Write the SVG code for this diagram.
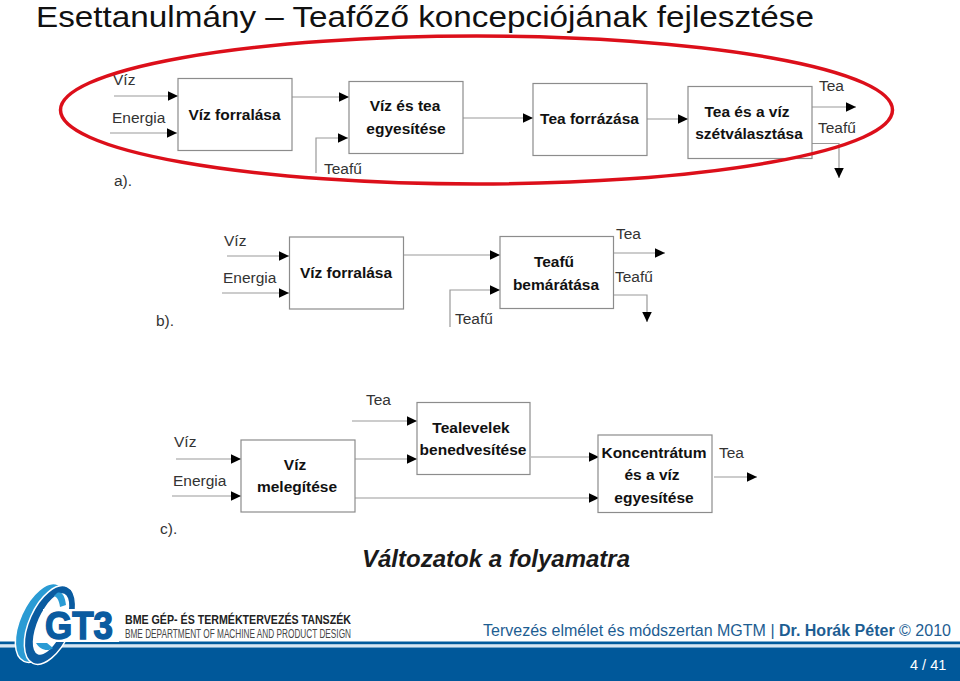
<svg xmlns="http://www.w3.org/2000/svg" width="960" height="681" viewBox="0 0 960 681">
<style>
text{font-family:"Liberation Sans",Arial,sans-serif;fill:#1a1a1a}
.l{font-size:15.500px;fill:#333}
.b{font-size:15.500px;font-weight:bold;fill:#111;text-anchor:middle}
.box{fill:#fff;stroke:#8c8c8c;stroke-width:1.2}
.c{fill:none;stroke:#999;stroke-width:1.2;marker-end:url(#a)}
</style>
<defs>
<marker id="a" markerUnits="userSpaceOnUse" markerWidth="11" markerHeight="11" refX="10.500" refY="5.500" orient="auto"><path d="M0 0.500L10.500 5.500L0 10.500z" fill="#000"/></marker>
</defs>
<rect width="960" height="681" fill="#fff"/>
<text x="36" y="27" font-size="29.800" textLength="778" lengthAdjust="spacingAndGlyphs" style="fill:#111">Esettanulmány – Teafőző koncepciójának fejlesztése</text>

<g id="connectors">
<path class="c" d="M114 96H178"/><path class="c" d="M110 133H177"/><path class="c" d="M292 97H349"/><path class="c" d="M316 173V138H348"/><path class="c" d="M463 118H533"/><path class="c" d="M647 119H688"/><path class="c" d="M812 107H856"/><path class="c" d="M812 143.500H839V178"/>
<path class="c" d="M227 256H289"/><path class="c" d="M222 293H289"/><path class="c" d="M404 255H500"/><path class="c" d="M450 327V290H500"/><path class="c" d="M614 253H665"/><path class="c" d="M614 295H647V322"/>
<path class="c" d="M352 421H417"/><path class="c" d="M176 459H241"/><path class="c" d="M172 496H241"/><path class="c" d="M355 459H417"/><path class="c" d="M531 457H599"/><path class="c" d="M355 498H599"/><path class="c" d="M714 477H757"/>
</g>

<g id="a1"><rect class="box" x="178" y="78.500" width="114" height="72"/><text class="b" x="234.500" y="120">Víz forralása</text></g>
<g id="a2"><rect class="box" x="349" y="81.500" width="114" height="72"/><text class="b" x="405" y="111">Víz és tea</text><text class="b" x="406" y="134">egyesítése</text></g>
<g id="a3"><rect class="box" x="533" y="83.500" width="114" height="72"/><text class="b" x="589.500" y="124">Tea forrázása</text></g>
<g id="a4"><rect class="box" x="688" y="86.500" width="124" height="72"/><text class="b" x="747" y="117">Tea és a víz</text><text class="b" x="749" y="139">szétválasztása</text></g>
<g id="b1"><rect class="box" x="289.500" y="237" width="114" height="72"/><text class="b" x="346" y="278">Víz forralása</text></g>
<g id="b2"><rect class="box" x="500" y="236.500" width="113.500" height="72"/><text class="b" x="554" y="267">Teafű</text><text class="b" x="556" y="290">bemárátása</text></g>
<g id="c1"><rect class="box" x="241" y="440" width="114" height="72"/><text class="b" x="295" y="470">Víz</text><text class="b" x="297" y="492">melegítése</text></g>
<g id="c2"><rect class="box" x="417" y="402.500" width="113" height="72"/><text class="b" x="471" y="433">Tealevelek</text><text class="b" x="473" y="455">benedvesítése</text></g>
<g id="c3"><rect class="box" x="598" y="435" width="114" height="77.500"/><text class="b" x="654" y="458">Koncentrátum</text><text class="b" x="652" y="480">és a víz</text><text class="b" x="654" y="503">egyesítése</text></g>

<g id="labels">
<text class="l" x="113" y="85">Víz</text><text class="l" x="112" y="123">Energia</text><text class="l" x="324" y="174">Teafű</text><text class="l" x="114" y="186">a).</text><text class="l" x="819" y="91">Tea</text><text class="l" x="818" y="133">Teafű</text>
<text class="l" x="224" y="246">Víz</text><text class="l" x="223" y="283">Energia</text><text class="l" x="616" y="239">Tea</text><text class="l" x="615" y="282">Teafű</text><text class="l" x="455" y="324">Teafű</text><text class="l" x="156" y="326">b).</text>
<text class="l" x="366" y="405">Tea</text><text class="l" x="174" y="447">Víz</text><text class="l" x="173" y="486">Energia</text><text class="l" x="719" y="458">Tea</text><text class="l" x="160" y="534">c).</text>
</g>

<ellipse id="highlight" cx="476.500" cy="110" rx="416" ry="74" fill="none" stroke="#dc0f1a" stroke-width="3.500"/>

<text x="362" y="567" font-size="23.500" font-weight="bold" font-style="italic" style="fill:#1a1a1a" textLength="268" lengthAdjust="spacingAndGlyphs">Változatok a folyamatra</text>

<rect y="641.500" width="960" height="3" fill="#005a9c"/>
<rect y="644.500" width="960" height="3" fill="#d7e6f2"/>
<rect y="647.500" width="960" height="33.500" fill="#00589a"/>

<g id="logo">
<ellipse cx="41" cy="623" rx="21" ry="42" transform="rotate(24 41 623)" fill="#2a9bd4" stroke="#fff" stroke-width="1.500"/>
<ellipse cx="50" cy="625" rx="21" ry="42" transform="rotate(24 50 625)" fill="#0a5ba0" stroke="#fff" stroke-width="1.500"/>
<ellipse cx="51" cy="624" rx="13.500" ry="33" transform="rotate(24 51 624)" fill="#fff"/>
<path d="M57 593C62 591 65 596 66 605L60 607C59 600 57 597 54 596z" fill="#2a9bd4"/>
<path d="M36 643C40 650 48 652 53 648L47 643z" fill="#2a9bd4"/>
<rect x="43" y="609" width="76" height="33" fill="#fff"/>
<text x="45" y="639" font-size="39" font-weight="bold" textLength="68" lengthAdjust="spacingAndGlyphs" style="fill:#0a5ba0;stroke:#0a5ba0;stroke-width:1.500">GT3</text>
<text x="125" y="624" font-size="13" font-weight="bold" textLength="226" lengthAdjust="spacingAndGlyphs" style="fill:#222">BME GÉP- ÉS TERMÉKTERVEZÉS TANSZÉK</text>
<text x="125" y="638" font-size="12" textLength="226" lengthAdjust="spacingAndGlyphs" style="fill:#444">BME DEPARTMENT OF MACHINE AND PRODUCT DESIGN</text>
</g>

<text x="483" y="636" font-size="16" style="fill:#1d5d92" textLength="468" lengthAdjust="spacingAndGlyphs">Tervezés elmélet és módszertan MGTM | <tspan font-weight="bold">Dr. Horák Péter</tspan> © 2010</text>
<text x="910" y="670" font-size="14.500" style="fill:#fff">4 / 41</text>
</svg>
